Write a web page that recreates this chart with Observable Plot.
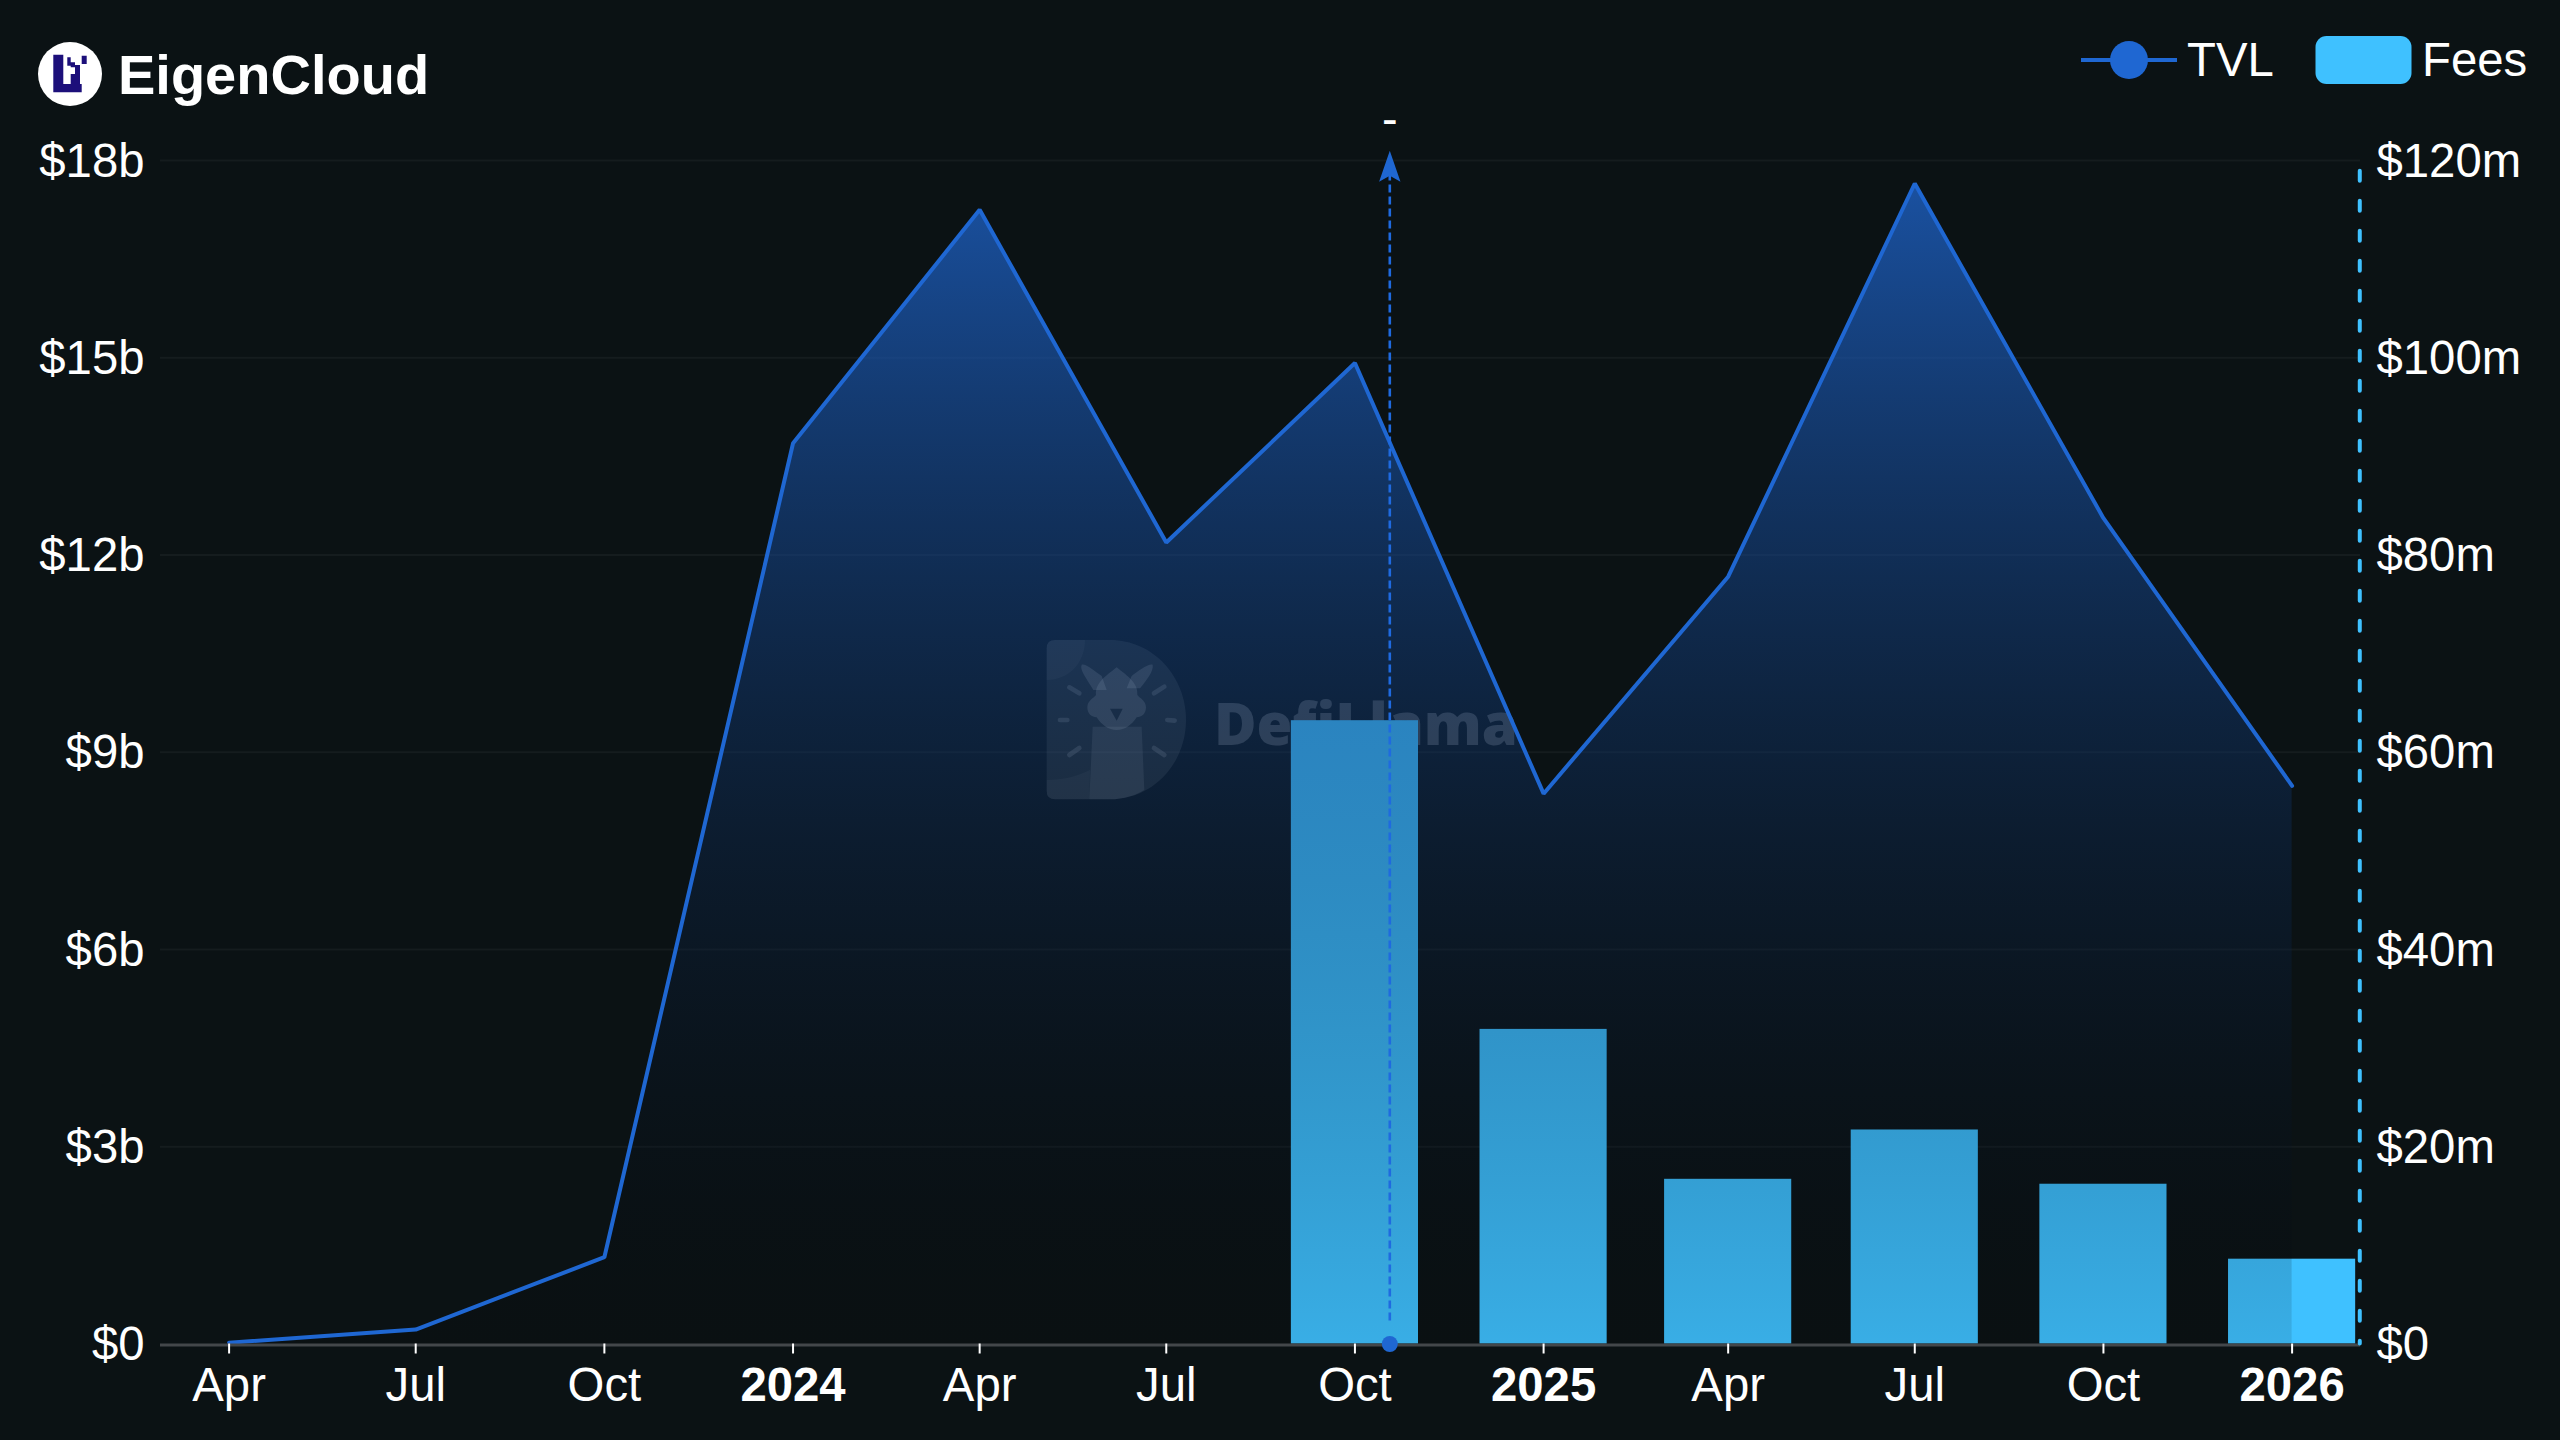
<!DOCTYPE html>
<html>
<head>
<meta charset="utf-8">
<script src="https://cdn.jsdelivr.net/npm/d3@7"></script>
<script src="https://cdn.jsdelivr.net/npm/@observablehq/plot@0.6"></script>
<style>
  html, body { margin: 0; padding: 0; background: #0b1214; }
  body { width: 2560px; height: 1440px; overflow: hidden; font-family: "Liberation Sans", Arial, sans-serif; color: #fff; }
  #header { display: block; width: 2560px; height: 110px; }
  #chart svg { display: block; }
</style>
</head>
<body>
<svg id="header" width="2560" height="110" xmlns="http://www.w3.org/2000/svg">
  <circle cx="70" cy="74" r="32" fill="#fff"/>
  <path fill="#1c0f7a" d="M53.3 54.7h10v37.6h-10zM53.3 84h28.4v8.3H53.3zM67.3 57.3h3.4v8.4h-3.4zM70.7 62.3h4.3v5h-4.3zM81.7 55.7h5v8.3h-5zM75 65h5v19h-5zM70.7 74h4.3v10h-4.3z"/>
  <text x="118" y="94" font-size="56" font-weight="700" fill="#fff">EigenCloud</text>
  <line x1="2081" x2="2177" y1="60" y2="60" stroke="#1f67d2" stroke-width="4"/>
  <circle cx="2129" cy="60" r="19" fill="#1f67d2"/>
  <text x="2187" y="76" font-size="47.3" fill="#fff">TVL</text>
  <rect x="2315.5" y="36" width="96" height="48" rx="11" fill="#3fc1ff"/>
  <text x="2422" y="76" font-size="47.3" fill="#fff">Fees</text>
</svg>
<div id="chart"></div>
<script>
const tvlDates = ["2023-04-01","2023-07-01","2023-10-01","2024-01-01","2024-04-01","2024-07-01","2024-10-01","2025-01-01","2025-04-01","2025-07-01","2025-10-01","2026-01-01"];
const tvlBillions = [0.02,0.22,1.32,13.7,17.25,12.19,14.92,8.37,11.67,17.65,12.56,8.49];

const feeDates = ["2024-10-01","2025-01-01","2025-04-01","2025-07-01","2025-10-01","2026-01-01"];
const feeMillions = [63.2,31.9,16.7,21.7,16.2,8.6];
const feeBarHalfDays = 31;

const quarterTickDates = ["2023-04-01","2023-07-01","2023-10-01","2024-04-01","2024-07-01","2024-10-01","2025-04-01","2025-07-01","2025-10-01"];
const quarterTickLabels = ["Apr","Jul","Oct","Apr","Jul","Oct","Apr","Jul","Oct"];
const yearTickDates = ["2024-01-01","2025-01-01","2026-01-01"];
const yearTickLabels = ["2024","2025","2026"];

const tvlTickValues = [0,3,6,9,12,15,18];
const tvlTickLabels = ["$0","$3b","$6b","$9b","$12b","$15b","$18b"];
const feeTickValues = [0,20,40,60,80,100,120];
const feeTickLabels = ["$0","$20m","$40m","$60m","$80m","$100m","$120m"];

const tvlMarkerDate = "2024-10-18";
const tvlMarkerTop = 17.8;
const feeMarkerDate = "2026-02-03";
const feeMarkerTop = 118.9;

const parse = s => new Date(s + "T00:00:00Z");
const addDays = (d, n) => new Date(+d + n * 864e5);
const feeToY = m => m * 18 / 120;

const tvl = tvlDates.map((d, i) => ({date: parse(d), value: tvlBillions[i]}));
const fees = feeDates.map((d, i) => ({date: parse(d), value: feeToY(feeMillions[i])}));

function gradientDefs() {
  const g = d3.create("svg:defs");
  const lg = g.append("linearGradient").attr("id", "tvlFade").attr("x1", 0).attr("y1", 0).attr("x2", 0).attr("y2", 1);
  lg.append("stop").attr("offset", 0).attr("stop-color", "#1f67d2").attr("stop-opacity", 0.74);
  lg.append("stop").attr("offset", 1).attr("stop-color", "#000").attr("stop-opacity", 0.1);
  return g.node();
}
function watermark() {
  const g = d3.create("svg:g").attr("aria-label", "watermark");
  const logo = g.append("g").attr("transform", "translate(1030,520) scale(0.3333)");
  const white = (o) => `rgba(255,255,255,${o})`;
  logo.append("path").attr("fill", white(0.1)).attr("d", "M75 30H240C370 30 468 140 468 270C468 400 370 508 240 508H75Q50 508 50 483V55Q50 30 75 30Z");
  logo.append("path").attr("fill", white(0.05)).attr("d", "M50 150V55Q50 30 75 30H165C165 100 115 150 50 150Z");
  logo.append("path").attr("fill", white(0.05)).attr("d", "M50 450C100 450 140 440 180 420L178 508H75Q50 508 50 483Z");
  logo.append("path").attr("fill", white(0.11)).attr("d", "M188 290L178 508H240C280 508 320 495 343 480L335 290Z");
  logo.append("path").attr("fill", white(0.17)).attr("d", "M190 180C170 145 148 120 155 104C168 100 195 125 215 138L230 180ZM330 175C350 150 372 122 368 104C355 100 322 125 305 138L290 175Z");
  logo.append("path").attr("fill", white(0.17)).attr("d", "M172 232C172 212 190 205 198 195C195 160 225 140 260 112C295 140 325 160 322 195C330 205 348 212 348 232C348 252 335 262 320 262C305 285 285 300 260 300C235 300 215 285 200 262C185 262 172 252 172 232Z");
  logo.append("path").attr("fill", "rgba(11,18,20,0.7)").attr("d", "M240 236L278 236L260 272Z");
  const ticks = [[118,172,148,190],[372,190,403,170],[90,270,112,270],[412,270,434,272],[118,375,148,354],[372,354,403,375]];
  logo.append("g").attr("stroke", white(0.16)).attr("stroke-width", 14).attr("stroke-linecap", "round")
    .selectAll("line").data(ticks).join("line")
    .attr("x1", d => d[0]).attr("y1", d => d[1]).attr("x2", d => d[2]).attr("y2", d => d[3]);
  g.append("text").attr("x", 1214).attr("y", 635).attr("text-anchor", "start").attr("font-family", "Open Sans").attr("font-weight", 800)
    .attr("font-size", 58).attr("fill", white(0.23)).text("DefiLlama");
  return g.node();
}
const arrowHead = {
  draw(ctx) {
    ctx.moveTo(0, -23);
    ctx.lineTo(10.7, 8);
    ctx.lineTo(0, 2);
    ctx.lineTo(-10.7, 8);
    ctx.closePath();
  }
};

const chart = Plot.plot({
  width: 2560,
  height: 1330,
  marginTop: 50,
  marginBottom: 96.5,
  marginLeft: 160,
  marginRight: 200,
  style: {background: "transparent", color: "#fff", fontFamily: "Liberation Sans, Arial, sans-serif", overflow: "visible"},
  x: {type: "utc", domain: [parse("2023-04-01"), parse("2026-01-01")], range: [228.6, 2291.6], axis: null},
  y: {domain: [0, 18], axis: null},
  marks: [
    gradientDefs,
    Plot.ruleY(tvlTickValues.slice(1), {y: d => d, stroke: "#fff", strokeOpacity: 0.045, strokeWidth: 2}),
    watermark,
    Plot.rectY(fees, {
      x1: d => addDays(d.date, -feeBarHalfDays),
      x2: d => addDays(d.date, feeBarHalfDays),
      y1: 0, y2: "value", fill: "#3fc1ff", inset: 0
    }),
    Plot.areaY(tvl, {x: "date", y1: 0, y2: "value", fill: "url(#tvlFade)", curve: "linear"}),
    Plot.lineY(tvl, {x: "date", y: "value", stroke: "#1f67d2", strokeWidth: 4, curve: "linear", strokeLinejoin: "miter"}),
    Plot.ruleY([0], {stroke: "#43474a", strokeWidth: 3, dy: 1}),
    Plot.axisX(quarterTickDates.map(parse), {
      anchor: "bottom", label: null, tickSize: 10, tickPadding: 13, fontSize: 47.3, stroke: "#fff", strokeWidth: 2,
      tickFormat: (d, i) => quarterTickLabels[i]
    }),
    Plot.axisX(yearTickDates.map(parse), {
      anchor: "bottom", label: null, tickSize: 10, tickPadding: 13, fontSize: 47.3, fontWeight: 700, stroke: "#fff", strokeWidth: 2,
      tickFormat: (d, i) => yearTickLabels[i]
    }),
    Plot.axisY(tvlTickValues, {
      anchor: "left", label: null, tickSize: 0, tickPadding: 16, fontSize: 47.3, dy: 1,
      tickFormat: (d, i) => tvlTickLabels[i]
    }),
    Plot.axisY(feeTickValues.map(feeToY), {
      anchor: "right", label: null, tickSize: 0, tickPadding: 16, fontSize: 47.3, dy: 1,
      tickFormat: (d, i) => feeTickLabels[i]
    }),
    Plot.ruleX([parse(feeMarkerDate)], {
      y1: feeToY(feeMarkerTop), y2: 0, stroke: "#3fc1ff", strokeWidth: 4,
      strokeDasharray: "10,20", strokeLinecap: "round"
    }),
    Plot.ruleX([parse(tvlMarkerDate)], {
      y1: 0.35, y2: tvlMarkerTop, stroke: "#1f6ae0", strokeWidth: 2.6, strokeDasharray: "8,4"
    }),
    Plot.dot([{date: parse(tvlMarkerDate), value: 0}], {x: "date", y: "value", r: 8, fill: "#1f67d2"}),
    Plot.dot([{date: parse(tvlMarkerDate), value: tvlMarkerTop}], {x: "date", y: "value", symbol: arrowHead, fill: "#1f67d2"}),
    Plot.text([{date: parse(tvlMarkerDate), value: tvlMarkerTop}], {
      x: "date", y: "value", text: () => "-", fill: "#fff", fontSize: 47, dy: -54, lineAnchor: "middle"
    })
  ]
});
document.getElementById("chart").appendChild(chart);
</script>
</body>
</html>
